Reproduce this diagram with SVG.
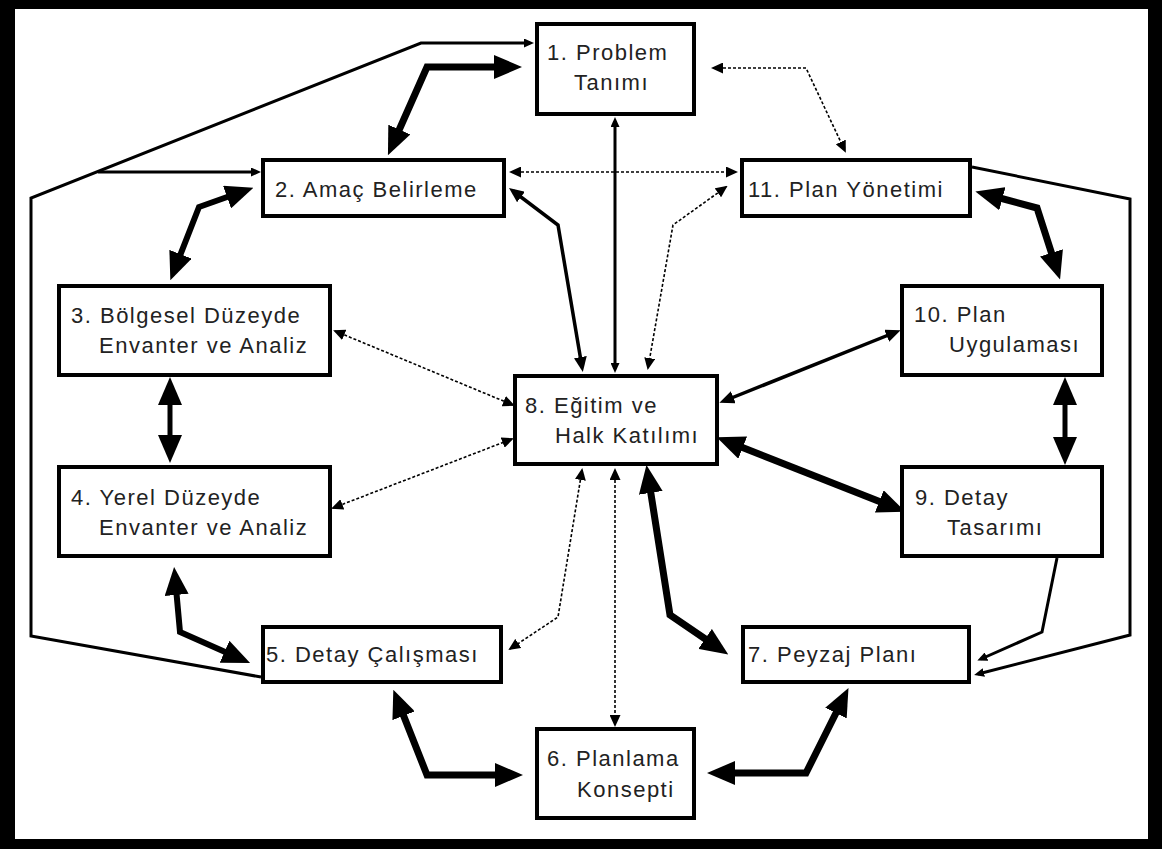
<svg xmlns="http://www.w3.org/2000/svg" width="1162" height="849" viewBox="0 0 1162 849">
<style>
.box{fill:#fff;stroke:#000;stroke-width:4}
.t{font-family:"Liberation Sans",Arial,sans-serif;font-size:22px;letter-spacing:1.5px;fill:#222}
.c{fill:none;stroke:#000;stroke-linejoin:miter}
.thick{stroke-width:7;marker-start:url(#big);marker-end:url(#big)}
.mid{stroke-width:3.5;marker-start:url(#med);marker-end:url(#med)}
.thin{stroke-width:3}
.dot{stroke-width:1.6;stroke-dasharray:3 2;marker-start:url(#dt);marker-end:url(#dt)}
</style>
<defs>
<marker id="big" markerUnits="userSpaceOnUse" markerWidth="28" markerHeight="24" refX="18" refY="12" orient="auto-start-reverse"><path d="M0,0 L28,12 L0,24 z" fill="#000"/></marker>
<marker id="med" markerUnits="userSpaceOnUse" markerWidth="15" markerHeight="13" refX="10" refY="6.5" orient="auto-start-reverse"><path d="M0,0 L15,6.5 L0,13 z" fill="#000"/></marker>
<marker id="sm" markerUnits="userSpaceOnUse" markerWidth="10" markerHeight="9" refX="6" refY="4.5" orient="auto-start-reverse"><path d="M0,0 L10,4.5 L0,9 z" fill="#000"/></marker>
<marker id="dt" markerUnits="userSpaceOnUse" markerWidth="12" markerHeight="11" refX="10" refY="5.5" orient="auto-start-reverse"><path d="M0,0 L12,5.5 L0,11 z" fill="#000"/></marker>
</defs>
<rect x="0" y="0" width="1162" height="849" fill="#000"/>
<rect x="15" y="9" width="1133" height="830" fill="#fff"/>
<g id="connectors">
<path class="c thick" d="M512 67 L427 67 L392 146"/>
<path class="c thick" style="stroke-width:6" d="M244 191 L199 207 L174 271"/>
<path class="c thick" style="stroke-width:5" d="M170 387 L170 453"/>
<path class="c thick" style="stroke-width:6" d="M175 577 L180 632 L241 659"/>
<path class="c thick" d="M397 699 L427 775 L513 775"/>
<path class="c thick" d="M717 773 L806 773 L844 697"/>
<path class="c thick" d="M648 475 L670 615 L720 649"/>
<path class="c thick" d="M726 441 L896 508"/>
<path class="c thick" style="stroke-width:5" d="M1065 387 L1065 455"/>
<path class="c thick" d="M985 194 L1037 208 L1057 270"/>
<path class="c mid" d="M513 191 L558 225 L582 367"/>
<path class="c mid" d="M724 401 L896 332"/>
<path class="c thin" style="marker-start:url(#sm);marker-end:url(#sm)" d="M615 121 L615 369"/>
<path class="c thin" style="marker-end:url(#sm)" d="M261 677 L31 636 L31 198 L421 43 L530 43"/>
<path class="c thin" style="marker-end:url(#sm)" d="M98 172 L257 172"/>
<path class="c thin" style="marker-end:url(#sm)" d="M972 167 L1130 199 L1130 635 L978 674"/>
<path class="c thin" style="marker-end:url(#sm)" d="M1057 558 L1042 632 L981 659"/>
<path class="c dot" d="M511 172 L736 172"/>
<path class="c dot" d="M726 187 L673 225 L648 368"/>
<path class="c dot" d="M713 68 L806 68 L845 151"/>
<path class="c dot" d="M335 331 L513 405"/>
<path class="c dot" d="M333 508 L512 439"/>
<path class="c dot" d="M582 470 L558 617 L510 649"/>
<path class="c dot" d="M615 470 L615 725"/>
</g>
<g id="n1"><rect class="box" x="537" y="24" width="157" height="90"/><text class="t" x="547" y="60">1. Problem</text><text class="t" x="574" y="90">Tanımı</text></g>
<g id="n2"><rect class="box" x="263" y="160" width="241" height="56"/><text class="t" x="275" y="197">2. Amaç Belirleme</text></g>
<g id="n11"><rect class="box" x="742" y="160" width="228" height="56"/><text class="t" x="748" y="197">11. Plan Yönetimi</text></g>
<g id="n3"><rect class="box" x="59" y="286" width="271" height="89"/><text class="t" x="71" y="323">3. Bölgesel Düzeyde</text><text class="t" x="99" y="353">Envanter ve Analiz</text></g>
<g id="n10"><rect class="box" x="902" y="286" width="200" height="89"/><text class="t" x="914" y="322">10. Plan</text><text class="t" x="949" y="352">Uygulaması</text></g>
<g id="n8"><rect class="box" x="515" y="376" width="202" height="88"/><text class="t" x="525" y="413">8. Eğitim ve</text><text class="t" x="555" y="443">Halk Katılımı</text></g>
<g id="n4"><rect class="box" x="59" y="467" width="271" height="89"/><text class="t" x="71" y="505">4. Yerel Düzeyde</text><text class="t" x="99" y="535">Envanter ve Analiz</text></g>
<g id="n9"><rect class="box" x="902" y="467" width="200" height="89"/><text class="t" x="915" y="505">9. Detay</text><text class="t" x="947" y="535">Tasarımı</text></g>
<g id="n5"><rect class="box" x="263" y="627" width="238" height="55"/><text class="t" x="266" y="662">5. Detay Çalışması</text></g>
<g id="n7"><rect class="box" x="743" y="627" width="226" height="55"/><text class="t" x="748" y="662">7. Peyzaj Planı</text></g>
<g id="n6"><rect class="box" x="537" y="729" width="157" height="89"/><text class="t" x="547" y="766">6. Planlama</text><text class="t" x="577" y="797">Konsepti</text></g>
</svg>
